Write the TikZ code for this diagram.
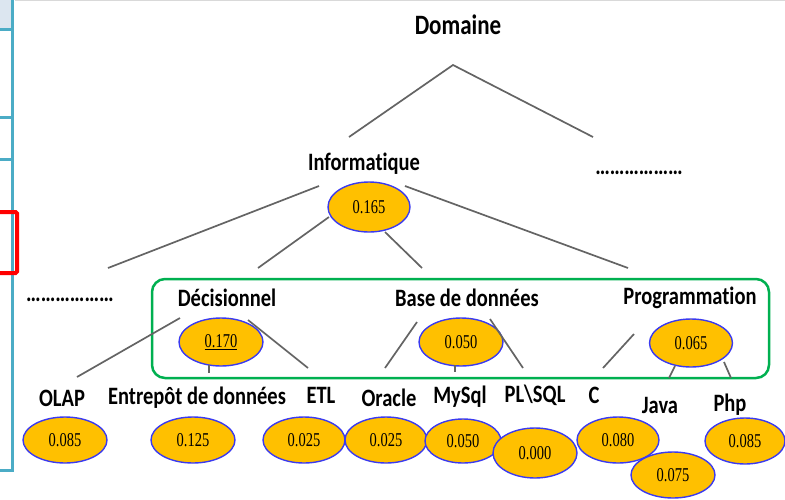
\documentclass[tikz,border=0pt]{standalone}
\usepackage{fontspec}
\setmainfont[Ligatures={NoCommon,NoRequired,NoContextual}]{Carlito}
\newfontfamily\numfont{Liberation Serif}
\usepackage{graphicx}
\usetikzlibrary{shapes.geometric}
\definecolor{ell}{HTML}{FFC000}
\definecolor{ellb}{HTML}{3A3AF0}
\definecolor{lin}{HTML}{646464}
\definecolor{grn}{HTML}{00B050}
\definecolor{frm}{HTML}{4BACC6}
\definecolor{frmfill}{HTML}{DCE6F0}
\newcommand{\ys}[1]{\scalebox{1}[1.22]{#1}}
\newcommand{\yn}[1]{\scalebox{1}[1.35]{#1}}
\tikzset{
 lbl/.style={font=\fontsize{20.5}{24}\selectfont\bfseries, inner sep=0pt},
 val/.style={ellipse, draw=ellb, line width=1.4pt, fill=ell, inner sep=0pt,
   font=\numfont\fontsize{14.5}{16}\selectfont, minimum width=84pt, minimum height=46pt},
 conn/.style={draw=lin, line width=1.7pt},
}
\begin{document}
\begin{tikzpicture}[x=1pt,y=-1pt]
\useasboundingbox (0,0) rectangle (785,499);
% left frame (cut-off table)
\fill[frmfill] (0,0) rectangle (12,29);
\draw[frm, line width=3pt] (12,0) -- (12,470);
\draw[frm, line width=3pt] (0,29) -- (12,29);
\draw[frm, line width=3pt] (0,117) -- (12,117);
\draw[frm, line width=3pt] (0,159) -- (12,159);
\draw[frm, line width=3pt] (0,470) -- (13.5,470);
\draw[red, line width=4pt, rounded corners=1.5pt] (-10,212) -- (17,212) -- (17,273) -- (-10,273);
\draw[black!15, line width=1pt] (15,0.5) -- (785,0.5);
% green box
\draw[grn, line width=2.5pt, rounded corners=13pt] (152,279) rectangle (769,378);

% labels
\node[lbl, font=\fontsize{23}{26}\selectfont\bfseries] (dom) at (458,25) {\ys{Domaine}};
\node[lbl] (info) at (364,164) {\ys{Informat\kern0pt ique}};
\node[lbl] (dotsR) at (639,173) {\ys{………………}};
\node[lbl] (dotsL) at (70,300) {\ys{………………}};
\node[lbl] (dec) at (227,298) {\ys{Décisionnel}};
\node[lbl] (bdd) at (467,298) {\ys{Base de données}};
\node[lbl] (prog) at (690,298) {\ys{Programmat\kern0pt ion}};
\node[lbl] (olap) at (62,398) {\ys{OLAP}};
\node[lbl] (entr) at (197,398) {\ys{Entrepôt de données}};
\node[lbl] (etl) at (321,395) {\ys{ETL}};
\node[lbl] (orac) at (389,398) {\ys{Oracle}};
\node[lbl] (mysql) at (460,397) {\ys{MySql}};
\node[lbl] (plsql) at (535,395) {\ys{PL\textbackslash SQL}};
\node[lbl] (c) at (594,395) {\ys{C}};
\node[lbl] (java) at (660,405) {\ys{Java}};
\node[lbl] (php) at (730,405) {\ys{Php}};

% value ellipses
\node[val, minimum width=82pt, minimum height=50pt] (vinfo) at (369,207) {\yn{0.165}};
\node[val, minimum height=48pt] (vdec) at (221,342) {\yn{\underline{0.170}}};
\node[val, minimum height=48pt] (vbdd) at (461,342) {\yn{0.050}};
\node[val, minimum width=83pt, minimum height=48pt] (vprog) at (691,343) {\yn{0.065}};
\node[val] (volap) at (65,440) {\yn{0.085}};
\node[val] (ventr) at (193,440) {\yn{0.125}};
\node[val, minimum width=82pt] (vetl) at (304,440) {\yn{0.025}};
\node[val, minimum width=82pt] (vorac) at (386,440) {\yn{0.025}};
\node[val, minimum width=76pt, minimum height=44pt] (vmysql) at (463,441) {\yn{0.050}};
\node[val, minimum height=50pt] (vplsql) at (535,453) {\yn{0.000}};
\node[val, minimum width=82pt] (vc) at (618,440) {\yn{0.080}};
\node[val] (vjava) at (673,475) {\yn{0.075}};
\node[val, minimum width=80pt] (vphp) at (745,441) {\yn{0.085}};

% connector end points
\coordinate (apex) at (453,65);
\coordinate (aL) at (349,137);
\coordinate (aR) at (593,137);
\coordinate (iL0) at (319,186);
\coordinate (iL1) at (108,268);
\coordinate (iR0) at (405,186);
\coordinate (iR1) at (628,268);
\coordinate (eL0) at (329,217);
\coordinate (eL1) at (258,268);
\coordinate (eR0) at (385,232);
\coordinate (eR1) at (422,268);
\coordinate (dL0) at (180,318);
\coordinate (dL1) at (77,377);
\coordinate (dR0) at (248,320);
\coordinate (dR1) at (308,368);
\coordinate (dT0) at (209,365);
\coordinate (dT1) at (209,373);
\coordinate (bL0) at (417,322);
\coordinate (bL1) at (385,368);
\coordinate (bR0) at (490,319);
\coordinate (bR1) at (523,368);
\coordinate (bT0) at (455,365);
\coordinate (bT1) at (455,372);
\coordinate (pL0) at (634,334);
\coordinate (pL1) at (603,368);
\coordinate (pA0) at (675,366);
\coordinate (pA1) at (669,378);
\coordinate (pB0) at (724,362);
\coordinate (pB1) at (731,378);

\draw[conn] (aL) -- (apex) -- (aR);
\draw[conn] (iL0) -- (iL1);
\draw[conn] (iR0) -- (iR1);
\draw[conn] (eL0) -- (eL1);
\draw[conn] (eR0) -- (eR1);
\draw[conn] (dL0) -- (dL1);
\draw[conn] (dR0) -- (dR1);
\draw[conn] (dT0) -- (dT1);
\draw[conn] (bL0) -- (bL1);
\draw[conn] (bR0) -- (bR1);
\draw[conn] (bT0) -- (bT1);
\draw[conn] (pL0) -- (pL1);
\draw[conn] (pA0) -- (pA1);
\draw[conn] (pB0) -- (pB1);
\end{tikzpicture}
\end{document}
